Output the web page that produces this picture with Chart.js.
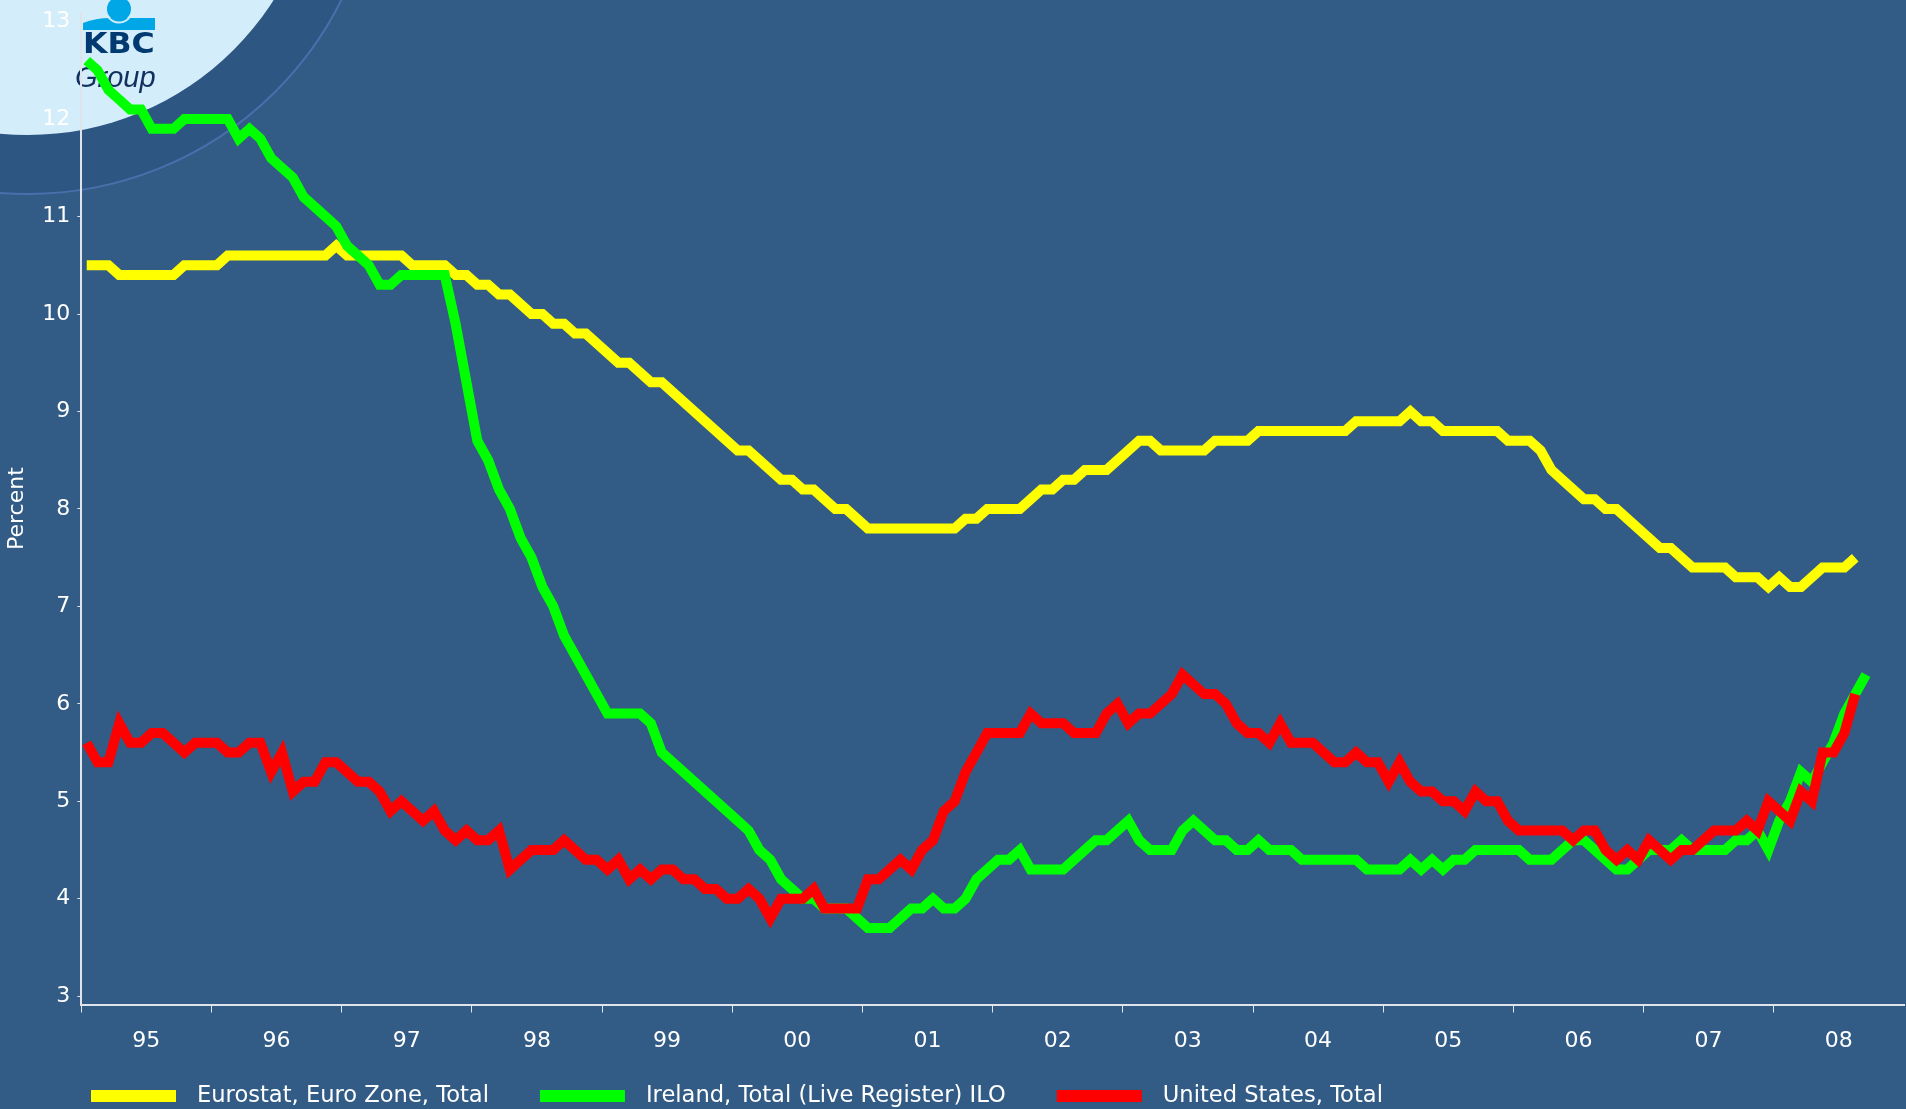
<!DOCTYPE html>
<html>
<head>
<meta charset="utf-8">
<title>Unemployment rates</title>
<script src="https://cdn.jsdelivr.net/npm/chart.js@4/dist/chart.umd.min.js"></script>
<style>
  html, body { margin: 0; padding: 0; background: #325c85; }
  canvas { display: block; }
</style>
</head>
<body>
<canvas id="chart" width="1906" height="1109"></canvas>
<script>
// monthly values, Jan 1995 onwards
const yearLabels = ['95', '96', '97', '98', '99', '00', '01', '02', '03', '04', '05', '06', '07', '08'];
const yTicks = [3, 4, 5, 6, 7, 8, 9, 10, 11, 12, 13];
const seriesNames = ['Eurostat, Euro Zone, Total', 'Ireland, Total (Live Register) ILO', 'United States, Total'];
const seriesColors = ['#ffff00', '#00ff00', '#ff0000'];

const euroZone = [
    10.5, 10.5, 10.5, 10.4, 10.4, 10.4, 10.4, 10.4, 10.4, 10.5, 10.5, 10.5,
    10.5, 10.6, 10.6, 10.6, 10.6, 10.6, 10.6, 10.6, 10.6, 10.6, 10.6, 10.7,
    10.6, 10.6, 10.6, 10.6, 10.6, 10.6, 10.5, 10.5, 10.5, 10.5, 10.4, 10.4,
    10.3, 10.3, 10.2, 10.2, 10.1, 10.0, 10.0, 9.9, 9.9, 9.8, 9.8, 9.7,
    9.6, 9.5, 9.5, 9.4, 9.3, 9.3, 9.2, 9.1, 9.0, 8.9, 8.8, 8.7,
    8.6, 8.6, 8.5, 8.4, 8.3, 8.3, 8.2, 8.2, 8.1, 8.0, 8.0, 7.9,
    7.8, 7.8, 7.8, 7.8, 7.8, 7.8, 7.8, 7.8, 7.8, 7.9, 7.9, 8.0,
    8.0, 8.0, 8.0, 8.1, 8.2, 8.2, 8.3, 8.3, 8.4, 8.4, 8.4, 8.5,
    8.6, 8.7, 8.7, 8.6, 8.6, 8.6, 8.6, 8.6, 8.7, 8.7, 8.7, 8.7,
    8.8, 8.8, 8.8, 8.8, 8.8, 8.8, 8.8, 8.8, 8.8, 8.9, 8.9, 8.9,
    8.9, 8.9, 9.0, 8.9, 8.9, 8.8, 8.8, 8.8, 8.8, 8.8, 8.8, 8.7,
    8.7, 8.7, 8.6, 8.4, 8.3, 8.2, 8.1, 8.1, 8.0, 8.0, 7.9, 7.8,
    7.7, 7.6, 7.6, 7.5, 7.4, 7.4, 7.4, 7.4, 7.3, 7.3, 7.3, 7.2,
    7.3, 7.2, 7.2, 7.3, 7.4, 7.4, 7.4, 7.5
];

const ireland = [
    12.6, 12.5, 12.3, 12.2, 12.1, 12.1, 11.9, 11.9, 11.9, 12.0, 12.0, 12.0,
    12.0, 12.0, 11.8, 11.9, 11.8, 11.6, 11.5, 11.4, 11.2, 11.1, 11.0, 10.9,
    10.7, 10.6, 10.5, 10.3, 10.3, 10.4, 10.4, 10.4, 10.4, 10.4, 9.9, 9.3,
    8.7, 8.5, 8.2, 8.0, 7.7, 7.5, 7.2, 7.0, 6.7, 6.5, 6.3, 6.1,
    5.9, 5.9, 5.9, 5.9, 5.8, 5.5, 5.4, 5.3, 5.2, 5.1, 5.0, 4.9,
    4.8, 4.7, 4.5, 4.4, 4.2, 4.1, 4.0, 4.0, 3.9, 3.9, 3.9, 3.8,
    3.7, 3.7, 3.7, 3.8, 3.9, 3.9, 4.0, 3.9, 3.9, 4.0, 4.2, 4.3,
    4.4, 4.4, 4.5, 4.3, 4.3, 4.3, 4.3, 4.4, 4.5, 4.6, 4.6, 4.7,
    4.8, 4.6, 4.5, 4.5, 4.5, 4.7, 4.8, 4.7, 4.6, 4.6, 4.5, 4.5,
    4.6, 4.5, 4.5, 4.5, 4.4, 4.4, 4.4, 4.4, 4.4, 4.4, 4.3, 4.3,
    4.3, 4.3, 4.4, 4.3, 4.4, 4.3, 4.4, 4.4, 4.5, 4.5, 4.5, 4.5,
    4.5, 4.4, 4.4, 4.4, 4.5, 4.6, 4.6, 4.5, 4.4, 4.3, 4.3, 4.4,
    4.5, 4.5, 4.5, 4.6, 4.5, 4.5, 4.5, 4.5, 4.6, 4.6, 4.7, 4.5,
    4.8, 5.0, 5.3, 5.2, 5.4, 5.6, 5.9, 6.1, 6.3
];

const unitedStates = [
    5.6, 5.4, 5.4, 5.8, 5.6, 5.6, 5.7, 5.7, 5.6, 5.5, 5.6, 5.6,
    5.6, 5.5, 5.5, 5.6, 5.6, 5.3, 5.5, 5.1, 5.2, 5.2, 5.4, 5.4,
    5.3, 5.2, 5.2, 5.1, 4.9, 5.0, 4.9, 4.8, 4.9, 4.7, 4.6, 4.7,
    4.6, 4.6, 4.7, 4.3, 4.4, 4.5, 4.5, 4.5, 4.6, 4.5, 4.4, 4.4,
    4.3, 4.4, 4.2, 4.3, 4.2, 4.3, 4.3, 4.2, 4.2, 4.1, 4.1, 4.0,
    4.0, 4.1, 4.0, 3.8, 4.0, 4.0, 4.0, 4.1, 3.9, 3.9, 3.9, 3.9,
    4.2, 4.2, 4.3, 4.4, 4.3, 4.5, 4.6, 4.9, 5.0, 5.3, 5.5, 5.7,
    5.7, 5.7, 5.7, 5.9, 5.8, 5.8, 5.8, 5.7, 5.7, 5.7, 5.9, 6.0,
    5.8, 5.9, 5.9, 6.0, 6.1, 6.3, 6.2, 6.1, 6.1, 6.0, 5.8, 5.7,
    5.7, 5.6, 5.8, 5.6, 5.6, 5.6, 5.5, 5.4, 5.4, 5.5, 5.4, 5.4,
    5.2, 5.4, 5.2, 5.1, 5.1, 5.0, 5.0, 4.9, 5.1, 5.0, 5.0, 4.8,
    4.7, 4.7, 4.7, 4.7, 4.7, 4.6, 4.7, 4.7, 4.5, 4.4, 4.5, 4.4,
    4.6, 4.5, 4.4, 4.5, 4.5, 4.6, 4.7, 4.7, 4.7, 4.8, 4.7, 5.0,
    4.9, 4.8, 5.1, 5.0, 5.5, 5.5, 5.7, 6.1
];

// each monthly value sits in the middle of its month
function monthly(values) {
    return values.map((v, i) => ({ x: i + 0.5, y: v }));
}

// page background: blue with the KBC corner circle and logo
const kbcBackground = {
    id: 'kbcBackground',
    beforeDraw(chart) {
        const ctx = chart.ctx;
        ctx.save();
        ctx.fillStyle = '#325c85';
        ctx.fillRect(0, 0, chart.width, chart.height);

        ctx.beginPath();
        ctx.arc(28, -156, 350, 0, Math.PI * 2);
        ctx.fillStyle = '#2d5682';
        ctx.fill();
        ctx.lineWidth = 2;
        ctx.strokeStyle = '#4b6fad';
        ctx.stroke();

        ctx.beginPath();
        ctx.arc(28, -156, 291, 0, Math.PI * 2);
        ctx.fillStyle = '#d3edfa';
        ctx.fill();

        // logo mark
        ctx.fillStyle = '#00a7e7';
        ctx.beginPath();
        ctx.arc(119, 9, 12, 0, Math.PI * 2);
        ctx.fill();
        ctx.beginPath();
        ctx.moveTo(83, 23);
        ctx.quadraticCurveTo(96, 18, 110, 18);
        ctx.lineTo(155, 18);
        ctx.lineTo(155, 30);
        ctx.lineTo(83, 30);
        ctx.closePath();
        ctx.fill();
        ctx.beginPath();
        ctx.arc(119, 9, 13.5, 0.15 * Math.PI, 0.85 * Math.PI);
        ctx.strokeStyle = '#d3edfa';
        ctx.lineWidth = 2;
        ctx.stroke();

        ctx.fillStyle = '#003a70';
        ctx.font = 'bold 29px "DejaVu Sans"';
        ctx.textBaseline = 'alphabetic';
        ctx.save();
        ctx.translate(83, 53);
        ctx.scale(1.09, 1);
        ctx.fillText('KBC', 0, 0);
        ctx.restore();

        ctx.fillStyle = '#12305f';
        ctx.font = 'italic 29px "Liberation Sans"';
        ctx.fillText('Group', 75, 87);
        ctx.restore();
    }
};

// legend row under the axis
const bottomLegend = {
    id: 'bottomLegend',
    afterDraw(chart, args, opts) {
        const ctx = chart.ctx;
        let x = opts.left;
        ctx.save();
        ctx.font = opts.fontSize + 'px "DejaVu Sans"';
        ctx.textBaseline = 'middle';
        ctx.textAlign = 'left';
        chart.data.datasets.forEach(ds => {
            ctx.fillStyle = ds.borderColor;
            ctx.fillRect(x, opts.top, opts.boxWidth, opts.boxHeight);
            const tx = x + opts.boxWidth + opts.textGap;
            ctx.fillStyle = '#ffffff';
            ctx.fillText(ds.label, tx, opts.top + opts.boxHeight / 2);
            x = tx + ctx.measureText(ds.label).width + opts.itemGap;
        });
        ctx.restore();
    }
};

Chart.defaults.font.family = '"DejaVu Sans", sans-serif';
Chart.defaults.font.size = 22;
Chart.defaults.color = '#ffffff';

const axisColor = '#dfe3ea';

new Chart(document.getElementById('chart').getContext('2d'), {
    type: 'line',
    data: {
        datasets: [
            { label: seriesNames[0], data: monthly(euroZone), borderColor: seriesColors[0], order: 3 },
            { label: seriesNames[1], data: monthly(ireland), borderColor: seriesColors[1], order: 2 },
            { label: seriesNames[2], data: monthly(unitedStates), borderColor: seriesColors[2], order: 1 }
        ]
    },
    options: {
        responsive: false,
        animation: false,
        devicePixelRatio: 1,
        layout: { padding: { top: 12.7, right: 2, left: 0, bottom: 0 } },
        elements: {
            point: { radius: 0 },
            line: { borderWidth: 10, tension: 0, borderJoinStyle: 'miter', borderCapStyle: 'butt', fill: false }
        },
        plugins: {
            legend: { display: false },
            tooltip: { enabled: false },
            bottomLegend: { left: 91, top: 1090, boxWidth: 85, boxHeight: 12, textGap: 21, itemGap: 51, fontSize: 22.6 }
        },
        scales: {
            x: {
                type: 'linear',
                min: 0,
                max: yearLabels.length * 12,
                afterBuildTicks: s => { s.ticks = yearLabels.map((_, k) => ({ value: k * 12 })); },
                afterFit: s => { s.height = 104.5; s.paddingLeft = 0; s.paddingRight = 0; },
                grid: { drawOnChartArea: false, drawTicks: true, tickLength: 8, color: axisColor, lineWidth: 1 },
                border: { color: axisColor, width: 2 },
                ticks: {
                    callback: v => yearLabels[v / 12],
                    labelOffset: 65,
                    padding: 16,
                    autoSkip: false,
                    maxRotation: 0,
                    color: '#ffffff'
                }
            },
            y: {
                min: 2.915,
                max: 13.092,
                afterBuildTicks: s => { s.ticks = yTicks.map(v => ({ value: v })); },
                afterFit: s => { s.width = 81.3; s.paddingTop = 0; s.paddingBottom = 0; },
                grid: { drawOnChartArea: false, drawTicks: true, tickLength: 4, color: axisColor, lineWidth: 1 },
                border: { color: axisColor, width: 2 },
                ticks: { callback: v => String(v), padding: 7, color: '#ffffff' },
                title: { display: true, text: 'Percent', color: '#ffffff', font: { size: 22 }, padding: { top: 4, bottom: 4 } }
            }
        }
    },
    plugins: [kbcBackground, bottomLegend]
});
</script>
</body>
</html>
